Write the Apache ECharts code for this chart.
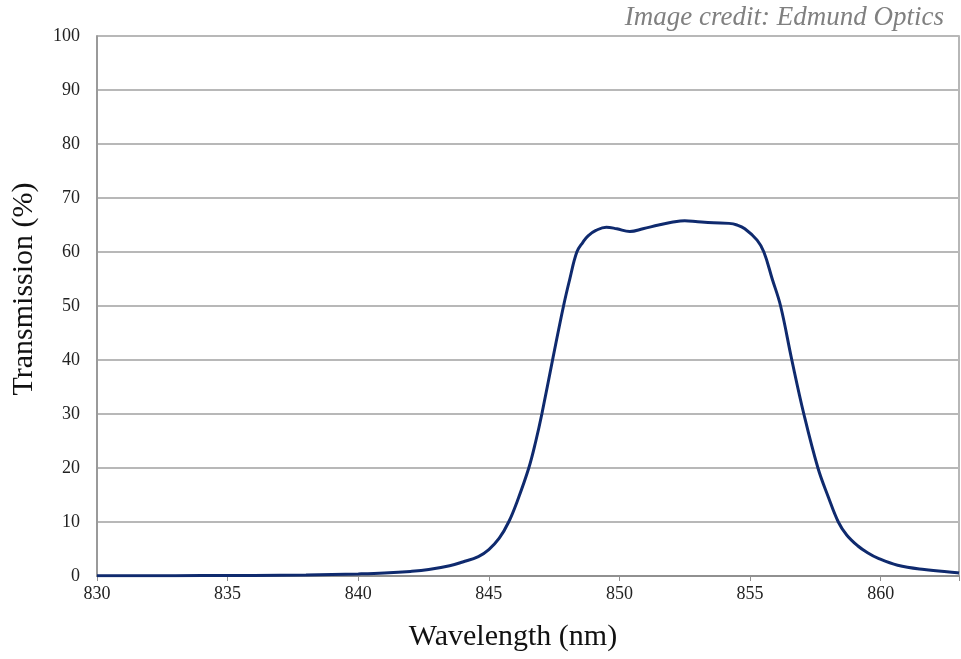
<!DOCTYPE html>
<html>
<head>
<meta charset="utf-8">
<script src="https://cdn.jsdelivr.net/npm/echarts@6/dist/echarts.min.js"></script>
<style>html,body{margin:0;padding:0;background:#fff;}#c{width:961px;height:659px;}</style>
</head>
<body>
<div id="c"></div>
<script>
var wavelengths = [830, 832, 834, 836, 838, 839, 840, 841, 842, 842.7, 843.5, 844, 844.6, 845, 845.4, 845.76, 846.1, 846.53, 846.8, 847.03, 847.44, 847.86, 848.1, 848.37, 848.6, 848.8, 849.1, 849.5, 849.9, 850.4, 850.9, 851.5, 852.0, 852.5, 853.0, 853.6, 854.2, 854.5, 854.8, 855.27, 855.53, 855.85, 856.17, 856.6, 857.06, 857.6, 858.0, 858.38, 858.7, 859.12, 859.5, 859.89, 860.65, 861.67, 862.94, 863];
var transmission = [0.05, 0.05, 0.07, 0.1, 0.2, 0.28, 0.38, 0.55, 0.85, 1.2, 1.9, 2.6, 3.6, 4.9, 7.0, 10, 14, 20, 25, 30, 40, 50, 55, 60, 61.8, 63.0, 64.0, 64.6, 64.3, 63.8, 64.3, 65.0, 65.5, 65.8, 65.6, 65.4, 65.3, 65.0, 64.3, 62.2, 60, 55, 50, 40, 30, 20, 14.6, 10, 7.6, 5.6, 4.3, 3.3, 2.0, 1.2, 0.6, 0.55];
var xTicks = [830, 835, 840, 845, 850, 855, 860];
var yTicks = [0, 10, 20, 30, 40, 50, 60, 70, 80, 90, 100];
var xTitle = 'Wavelength (nm)';
var yTitle = 'Transmission (%)';
var credit = 'Image credit: Edmund Optics';

var chart = echarts.init(document.getElementById('c'));
var pts = wavelengths.map(function (w, i) { return [w, transmission[i]]; });
var serif = '"Liberation Serif", "DejaVu Serif", serif';
chart.setOption({
  animation: false,
  backgroundColor: '#fff',
  graphic: [{
    type: 'text', right: 17, top: 4,
    style: { text: credit, font: 'italic 27px ' + serif, fill: '#808080' }
  }, {
    type: 'text', x: 513, y: 637,
    style: { text: xTitle, font: '30px ' + serif, fill: '#111', textAlign: 'center', textVerticalAlign: 'middle' }
  }, {
    type: 'text', x: 24, y: 289, rotation: Math.PI / 2,
    style: { text: yTitle, font: '30px ' + serif, fill: '#111', textAlign: 'center', textVerticalAlign: 'middle' }
  }],
  grid: { left: 97, top: 36, right: 2, bottom: 83, show: true, borderColor: '#a0a0a0', borderWidth: 1.5,
    containLabel: false, outerBoundsMode: 'none' },
  xAxis: {
    type: 'value', min: 830, max: 863, interval: 5,
    axisLine: { show: true, onZero: false, lineStyle: { color: '#909090', width: 2 } },
    axisTick: { show: true, length: 5, lineStyle: { color: '#909090' } },
    axisLabel: { fontFamily: serif, fontSize: 18, color: '#222', margin: 9,
      formatter: function (v) { return xTicks.indexOf(v) >= 0 ? String(v) : ''; } },
    splitLine: { show: false }
  },
  yAxis: {
    type: 'value', min: 0, max: 100, interval: 10,
    axisLine: { show: true, lineStyle: { color: '#909090', width: 1.5 } },
    axisTick: { show: false },
    axisLabel: { fontFamily: serif, fontSize: 18, color: '#222', margin: 17,
      formatter: function (v) { return yTicks.indexOf(v) >= 0 ? String(v) : ''; } },
    splitLine: { show: true, lineStyle: { color: '#b8b8b8', width: 2 } }
  },
  series: [{
    type: 'line', data: pts, smooth: 0.4, showSymbol: false,
    lineStyle: { color: '#0f2a6e', width: 3 }
  }]
});
</script>
</body>
</html>
